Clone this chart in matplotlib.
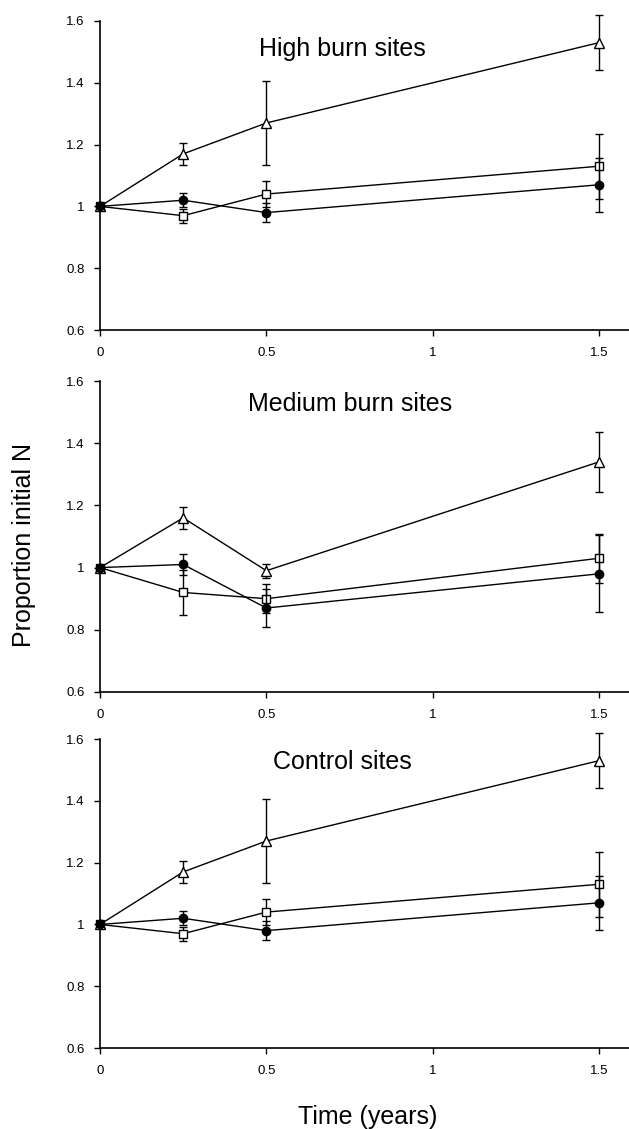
import numpy as np
import matplotlib
matplotlib.use("Agg")
import matplotlib.pyplot as plt

plt.rcParams['font.family'] = ['Liberation Sans', 'DejaVu Sans']

times = [0, 0.25, 0.5, 1.5]

# High burn sites
high_tri = [1.0, 1.17, 1.27, 1.53]
high_tri_err = [0, 0.035, 0.135, 0.09]
high_sq = [1.0, 0.97, 1.04, 1.13]
high_sq_err = [0, 0.023, 0.043, 0.105]
high_circ = [1.0, 1.02, 0.98, 1.07]
high_circ_err = [0, 0.022, 0.03, 0.087]

# Medium burn sites
med_tri = [1.0, 1.16, 0.99, 1.34]
med_tri_err = [0, 0.035, 0.022, 0.097]
med_sq = [1.0, 0.92, 0.90, 1.03]
med_sq_err = [0, 0.072, 0.047, 0.078]
med_circ = [1.0, 1.01, 0.87, 0.98]
med_circ_err = [0, 0.033, 0.061, 0.124]

# Control sites
ctrl_tri = [1.0, 1.17, 1.27, 1.53]
ctrl_tri_err = [0, 0.035, 0.135, 0.09]
ctrl_sq = [1.0, 0.97, 1.04, 1.13]
ctrl_sq_err = [0, 0.023, 0.043, 0.105]
ctrl_circ = [1.0, 1.02, 0.98, 1.07]
ctrl_circ_err = [0, 0.022, 0.03, 0.087]

titles = ["High burn sites", "Medium burn sites", "Control sites"]
yticks = [0.6, 0.8, 1.0, 1.2, 1.4, 1.6]
ytick_labels = ["0.6", "0.8", "1", "1.2", "1.4", "1.6"]
xticks = [0, 0.5, 1, 1.5]
xtick_labels = ["0", "0.5", "1", "1.5"]

panels = [
    (high_tri, high_tri_err, high_sq, high_sq_err, high_circ, high_circ_err),
    (med_tri, med_tri_err, med_sq, med_sq_err, med_circ, med_circ_err),
    (ctrl_tri, ctrl_tri_err, ctrl_sq, ctrl_sq_err, ctrl_circ, ctrl_circ_err),
]

fig = plt.figure(figsize=(6.29, 11.29), dpi=100)

# axes rectangles in figure fractions (left, bottom, width, height)
rects = [
    (0.159, 0.7077, 0.841, 0.2737),
    (0.159, 0.3871, 0.841, 0.2754),
    (0.159, 0.0717, 0.841, 0.2737),
]
title_pos = [(0.458, 0.91), (0.472, 0.925), (0.458, 0.925)]

for i, (rect, data) in enumerate(zip(rects, panels)):
    ax = fig.add_axes(rect)
    tri, tri_e, sq, sq_e, circ, circ_e = data
    common = dict(color='black', ecolor='black', lw=1.0, elinewidth=1.0,
                  capsize=3, capthick=1.0, clip_on=False)
    ax.errorbar(times, sq, yerr=sq_e, marker='s', ms=6, mfc='white',
                mec='black', mew=1.0, zorder=3, **common)
    ax.errorbar(times, tri, yerr=tri_e, marker='^', ms=7, mfc='white',
                mec='black', mew=1.0, zorder=3, **common)
    ax.errorbar(times, circ, yerr=circ_e, marker='o', ms=6, mfc='black',
                mec='black', mew=1.0, zorder=4, **common)

    ax.set_xlim(0, 1.59)
    ax.set_ylim(0.6, 1.6)
    ax.set_yticks(yticks)
    ax.set_yticklabels(ytick_labels)
    ax.set_xticks(xticks)
    ax.set_xticklabels(xtick_labels)
    ax.tick_params(axis='both', direction='out', length=4, width=1.0,
                   labelsize=9.5, pad=7)
    ax.tick_params(axis='x', pad=8)
    for side in ['top', 'right']:
        ax.spines[side].set_visible(False)
    for side in ['left', 'bottom']:
        ax.spines[side].set_linewidth(1.2)
    ax.text(title_pos[i][0], title_pos[i][1], titles[i], transform=ax.transAxes,
            ha='center', va='center', fontsize=18)

fig.text(0.038, 0.517, "Proportion initial N", rotation=90,
         ha='center', va='center', fontsize=18)
fig.text(0.585, 0.011, "Time (years)", ha='center', va='center', fontsize=18)

fig.savefig("out.png", dpi=100)
